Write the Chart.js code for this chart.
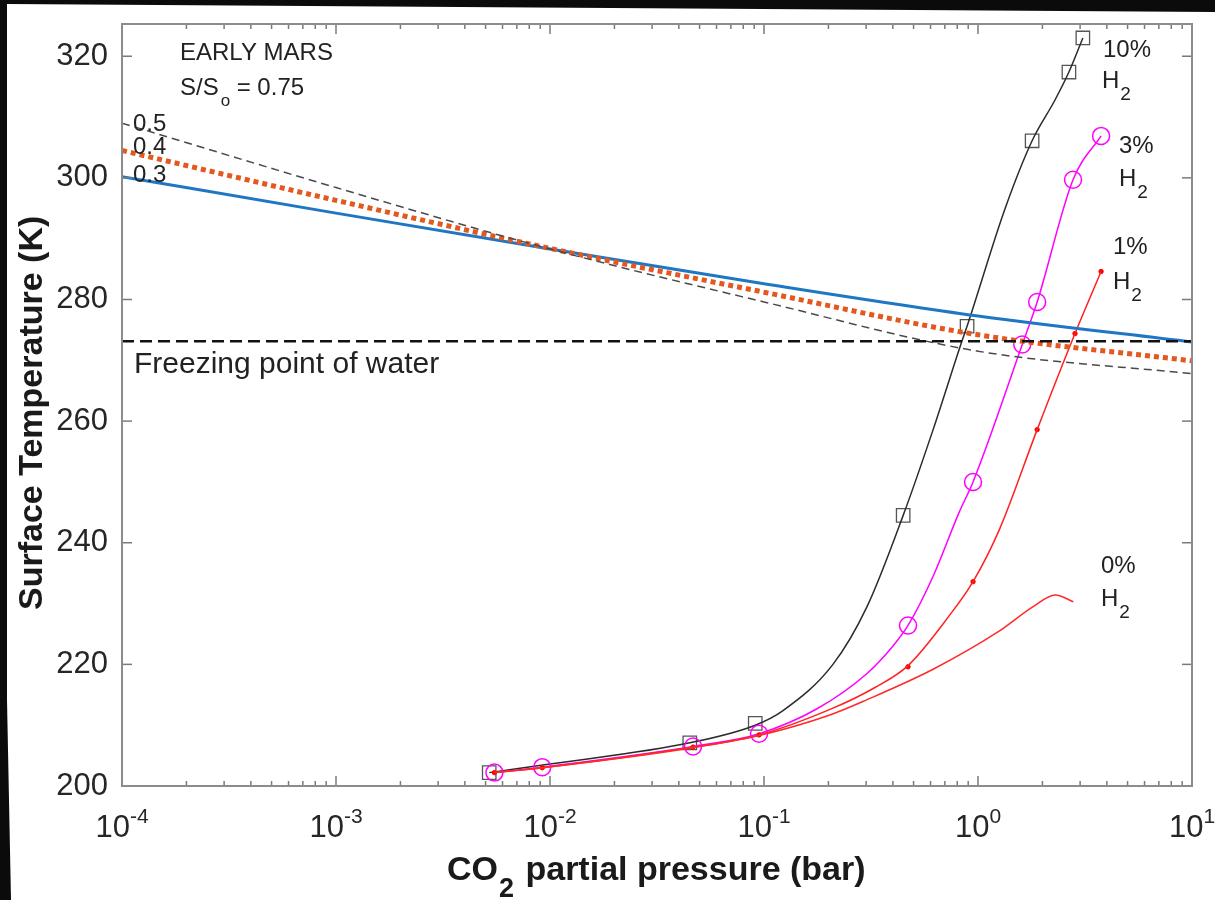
<!DOCTYPE html>
<html><head><meta charset="utf-8">
<script src="https://cdn.jsdelivr.net/npm/chart.js@4.4.1/dist/chart.umd.min.js"></script>
<style>html,body{margin:0;padding:0;background:#0b0b0b;overflow:hidden}canvas{display:block}</style>
</head><body>
<canvas id="c" width="1215" height="900"></canvas>
<script>
const FONT = '"Liberation Sans", Arial, Helvetica, sans-serif';

// ---------- data (CO2 partial pressure in bar, surface temperature in K) ----------
const pBase   = [1e-4, 1e-3, 1e-2, 1e-1, 1, 10];
const temp03  = [300.2, 294.2, 288.3, 282.6, 277.3, 273.0];
const temp04  = [304.5, 296.3, 288.4, 281.2, 274.2, 269.9];
const temp05  = [309.0, 298.4, 288.3, 279.6, 271.5, 267.8];
const freezeP = [1e-4, 10];
const freezeT = [273.15, 273.15];

const h2_10_p = [0.0052, 0.01, 0.045, 0.091, 0.1227, 0.21, 0.303, 0.447, 0.617, 0.84, 0.889, 1.34, 1.79, 2.29, 2.66, 3.09];
const h2_10_T = [202.2, 203.6, 207.1, 210.0, 212.4, 220.0, 229.5, 244.5, 258.6, 273.1, 275.6, 295.0, 306.1, 312.8, 317.4, 323.0];
const h2_10_markP = [0.0052, 0.045, 0.091, 0.447, 0.889, 1.79, 2.66, 3.09];
const h2_10_markT = [202.2, 207.1, 210.3, 244.5, 275.6, 306.1, 317.4, 323.0];

const h2_3_p = [0.0055, 0.0092, 0.0466, 0.0948, 0.177, 0.303, 0.398, 0.471, 0.617, 0.816, 0.948, 1.61, 1.89, 2.78, 3.76];
const h2_3_T = [202.2, 203.1, 206.5, 208.6, 212.7, 218.5, 222.9, 226.4, 234.5, 245.0, 250.0, 272.6, 279.6, 299.7, 306.9];
const h2_3_markP = [0.0055, 0.0092, 0.0466, 0.0948, 0.471, 0.948, 1.61, 1.89, 2.78, 3.76];
const h2_3_markT = [202.2, 203.1, 206.5, 208.6, 226.4, 250.0, 272.6, 279.6, 299.7, 306.9];

const h2_1_p = [0.0055, 0.0092, 0.0466, 0.0948, 0.21, 0.33, 0.471, 0.73, 0.948, 1.26, 1.89, 2.84, 3.76];
const h2_1_T = [202.2, 203.0, 206.4, 208.4, 212.8, 216.2, 219.8, 227.9, 233.6, 242.2, 258.6, 274.4, 284.6];
const h2_1_markP = [0.0055, 0.0092, 0.0466, 0.0948, 0.471, 0.948, 1.89, 2.84, 3.76];
const h2_1_markT = [202.2, 203.0, 206.4, 208.4, 219.6, 233.6, 258.6, 274.4, 284.6];

const h2_0_p = [0.0055, 0.0092, 0.0466, 0.0948, 0.2, 0.303, 0.617, 1.26, 1.81, 2.3, 2.79];
const h2_0_T = [202.2, 203.0, 206.3, 208.3, 211.6, 214.2, 219.2, 225.5, 229.5, 231.4, 230.3];

// ---------- ticks ----------
const yTicks = [200, 220, 240, 260, 280, 300, 320];
const xMajorTicks = [1e-4, 1e-3, 1e-2, 1e-1, 1, 10];
const xTickExponents = ['-4', '-3', '-2', '-1', '0', '1'];
const xMinorMultipliers = [2, 3, 4, 5, 6, 7, 8, 9];

const pts = (ps, ts) => ps.map((p, i) => ({x: p, y: ts[i]}));

function lineDs(label, ps, ts, color, width, dash) {
  return {label, data: pts(ps, ts), borderColor: color, borderWidth: width, borderDash: dash || [],
    pointRadius: 0, fill: false, cubicInterpolationMode: 'monotone'};
}
function markDs(label, ps, ts, style, r, color, bw, fillColor) {
  return {label, data: pts(ps, ts), showLine: false, pointStyle: style, pointRadius: r,
    pointBorderColor: color, pointBackgroundColor: fillColor || 'rgba(0,0,0,0)', pointBorderWidth: bw};
}

const bgPlugin = {
  id: 'bg',
  beforeDraw(chart) {
    const ctx = chart.ctx;
    ctx.save();
    ctx.fillStyle = '#0b0b0b';
    ctx.fillRect(0, 0, chart.width, chart.height);
    ctx.fillStyle = '#ffffff';
    ctx.beginPath();
    ctx.moveTo(7, 4); ctx.lineTo(1215, 12); ctx.lineTo(1215, 900); ctx.lineTo(11, 900); ctx.lineTo(7, 700);
    ctx.closePath(); ctx.fill();
    ctx.restore();
  }
};

function txt(ctx, s, x, y, font, align) {
  ctx.font = font; ctx.textAlign = align || 'left'; ctx.fillText(s, x, y);
  return ctx.measureText(s).width;
}
function subLabel(ctx, main, sub, x, y, size, subSize, subDrop) {
  const w = txt(ctx, main, x, y, size + 'px ' + FONT);
  txt(ctx, sub, x + w + 1, y + subDrop, subSize + 'px ' + FONT);
}

const decorPlugin = {
  id: 'decor',
  afterDraw(chart) {
    const {ctx, chartArea: a, scales: {x, y}} = chart;
    ctx.save();
    const seg = (x1, y1, x2, y2) => { ctx.beginPath(); ctx.moveTo(x1, y1); ctx.lineTo(x2, y2); ctx.stroke(); };
    // ticks (inward, on all four sides)
    ctx.strokeStyle = '#7a7a7a'; ctx.lineWidth = 1.5;
    xMajorTicks.forEach((v, i) => {
      const px = x.getPixelForValue(v);
      seg(px, a.bottom, px, a.bottom - 10); seg(px, a.top, px, a.top + 10);
      if (i < xMajorTicks.length - 1) {
        xMinorMultipliers.forEach(m => {
          const q = x.getPixelForValue(v * m);
          seg(q, a.bottom, q, a.bottom - 5); seg(q, a.top, q, a.top + 5);
        });
      }
    });
    yTicks.forEach(v => {
      const py = y.getPixelForValue(v);
      seg(a.left, py, a.left + 10, py); seg(a.right, py, a.right - 10, py);
    });
    // box
    ctx.strokeStyle = '#8c8c8c'; ctx.lineWidth = 2;
    ctx.strokeRect(a.left, a.top, a.right - a.left, a.bottom - a.top);

    ctx.fillStyle = '#262626';
    ctx.textBaseline = 'alphabetic';
    // x tick labels 10^n
    xMajorTicks.forEach((v, i) => {
      const px = x.getPixelForValue(v);
      ctx.font = '31px ' + FONT; const wb = ctx.measureText('10').width;
      ctx.font = '21px ' + FONT; const we = ctx.measureText(xTickExponents[i]).width;
      const left = px - (wb + we) / 2;
      txt(ctx, '10', left, 837, '31px ' + FONT);
      txt(ctx, xTickExponents[i], left + wb, 823, '21px ' + FONT);
    });
    // axis titles
    ctx.fillStyle = '#1a1a1a';
    {
      const w1 = txt(ctx, 'CO', 447, 880, 'bold 34px ' + FONT);
      const w2 = txt(ctx, '2', 447 + w1 + 1, 897, 'bold 27px ' + FONT);
      txt(ctx, ' partial pressure (bar)', 447 + w1 + w2 + 3, 880, 'bold 34px ' + FONT);
    }
    ctx.save();
    ctx.translate(42, 610); ctx.rotate(-Math.PI / 2);
    txt(ctx, 'Surface Temperature (K)', 0, 0, 'bold 34px ' + FONT, 'left');
    ctx.restore();

    // annotations
    ctx.fillStyle = '#222';
    txt(ctx, 'EARLY MARS', 180, 60, '24px ' + FONT);
    {
      const w = txt(ctx, 'S/S', 180, 95, '24px ' + FONT);
      txt(ctx, 'o', 180 + w + 2, 106, '17px ' + FONT);
      txt(ctx, '= 0.75', 180 + w + 18, 95, '24px ' + FONT);
    }
    txt(ctx, '0.5', 133, 131, '24px ' + FONT);
    txt(ctx, '0.4', 133, 154, '24px ' + FONT);
    txt(ctx, '0.3', 133, 182, '24px ' + FONT);
    txt(ctx, 'Freezing point of water', 134, 373, '30px ' + FONT);

    txt(ctx, '10%', 1103, 57, '24px ' + FONT);
    subLabel(ctx, 'H', '2', 1102, 88, 24, 19, 12);
    txt(ctx, '3%', 1119, 153, '24px ' + FONT);
    subLabel(ctx, 'H', '2', 1119, 186, 24, 19, 12);
    txt(ctx, '1%', 1113, 254, '24px ' + FONT);
    subLabel(ctx, 'H', '2', 1113, 289, 24, 19, 12);
    txt(ctx, '0%', 1101, 573, '24px ' + FONT);
    subLabel(ctx, 'H', '2', 1101, 606, 24, 19, 12);
    ctx.restore();
  }
};

Chart.defaults.font.family = FONT;

new Chart(document.getElementById('c'), {
  type: 'line',
  data: {
    datasets: [
      lineDs('Freezing point of water', freezeP, freezeT, '#111111', 2.5, [12, 6]),
      lineDs('0.5', pBase, temp05, '#4a4a4a', 1.5, [8, 5]),
      lineDs('0.4', pBase, temp04, '#e4571f', 5, [5, 4]),
      lineDs('0.3', pBase, temp03, '#1f77c4', 3),
      lineDs('0% H2', h2_0_p, h2_0_T, '#ff2a2a', 1.5),
      lineDs('1% H2', h2_1_p, h2_1_T, '#ff2020', 1.5),
      markDs('1% H2 points', h2_1_markP, h2_1_markT, 'circle', 2.2, '#ff0000', 1, '#ff0000'),
      lineDs('3% H2', h2_3_p, h2_3_T, '#ff00ff', 1.5),
      markDs('3% H2 points', h2_3_markP, h2_3_markT, 'circle', 8.5, '#ff00ff', 1.5),
      lineDs('10% H2', h2_10_p, h2_10_T, '#2b2b2b', 1.5),
      markDs('10% H2 points', h2_10_markP, h2_10_markT, 'rect', 9.5, '#555555', 1.3)
    ]
  },
  options: {
    responsive: false,
    animation: false,
    devicePixelRatio: 1,
    layout: {padding: {left: 0, top: 24, right: 23, bottom: 0}},
    plugins: {legend: {display: false}, tooltip: {enabled: false}},
    scales: {
      x: {
        type: 'logarithmic', min: 1e-4, max: 10,
        grid: {display: false, drawTicks: false}, border: {display: false},
        ticks: {display: false},
        afterBuildTicks: s => { s.ticks = xMajorTicks.map(v => ({value: v})); },
        afterFit: s => { s.height = 114; s.paddingLeft = 0; s.paddingRight = 0; }
      },
      y: {
        type: 'linear', min: 200, max: 325.3,
        grid: {display: false, drawTicks: false}, border: {display: false},
        ticks: {color: '#262626', font: {size: 31}, padding: 14},
        afterBuildTicks: s => { s.ticks = yTicks.map(v => ({value: v})); },
        afterFit: s => { s.width = 122; s.paddingTop = 0; s.paddingBottom = 0; }
      }
    }
  },
  plugins: [bgPlugin, decorPlugin]
});
</script>
</body></html>
